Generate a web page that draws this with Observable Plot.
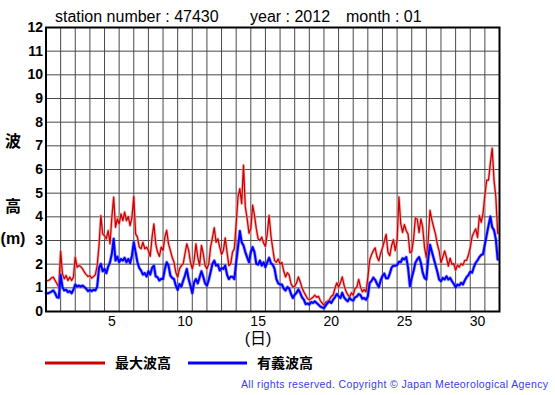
<!DOCTYPE html>
<html>
<head>
<meta charset="utf-8">
<script src="https://cdn.jsdelivr.net/npm/d3@7"></script>
<script src="https://cdn.jsdelivr.net/npm/@observablehq/plot@0.6"></script>
<style>
  html, body { margin: 0; padding: 0; background: #fff; }
  #chart svg { display: block; }
</style>
</head>
<body>
<div id="chart"></div>
<script>
// Station 47430, January 2012 — 3-hourly readings (8 per day)
const stationNumber = "47430";
const year = "2012";
const month = "01";
const readingsPerDay = 8;

const yTicks = [0,1,2,3,4,5,6,7,8,9,10,11,12];
const xTickLabels = [5,10,15,20,25,30];
const dayLines = d3.range(0, 32);

// 最大波高 (max wave height, m)
const maxWave = [
1.28,1.31,1.34,1.42,1.45,1.31,1.17,1.03,
2.55,1.59,1.38,1.52,1.31,1.45,1.31,1.45,
2.30,1.87,1.94,1.90,1.80,1.66,1.56,1.48,
1.52,1.41,1.48,1.56,1.94,2.79,4.05,3.28,
3.20,3.07,3.42,2.86,3.98,4.83,3.56,3.91,
3.70,4.12,3.84,4.20,3.84,4.01,3.63,3.98,
4.86,3.28,3.14,2.72,2.65,2.93,2.65,2.72,
2.58,2.33,3.14,3.70,2.86,2.51,2.33,2.72,
2.58,3.14,3.43,2.86,2.58,2.29,2.08,1.66,
1.45,1.80,1.94,2.01,2.44,2.86,2.58,2.08,
1.80,2.15,2.86,2.29,1.94,2.79,2.44,1.94,
1.80,2.01,2.72,3.11,3.54,2.93,3.07,2.72,
2.41,2.58,3.11,2.51,1.94,2.01,2.51,2.65,
3.71,4.84,5.19,4.56,6.18,4.42,3.92,3.31,
3.50,4.49,4.06,3.50,3.07,3.00,3.14,2.89,
2.75,3.28,4.06,3.21,2.65,2.15,2.08,2.22,
2.00,2.07,1.71,1.46,1.64,1.54,1.17,1.03,
1.07,1.21,1.46,1.26,1.00,0.83,0.69,0.54,
0.50,0.54,0.60,0.69,0.60,0.64,0.46,0.36,
0.26,0.40,0.43,0.50,0.64,0.69,0.97,1.21,
1.03,1.21,1.46,1.11,0.86,0.71,0.60,0.79,
0.69,0.97,1.03,1.36,1.03,0.83,0.93,0.83,
1.43,2.17,2.40,2.57,2.69,2.31,2.14,2.46,
2.69,2.97,3.26,2.50,2.36,2.79,3.03,2.57,
2.99,4.84,3.70,3.34,3.67,3.41,3.27,2.49,
2.53,3.06,3.95,3.91,3.34,3.91,3.56,2.70,
2.28,2.99,4.27,3.87,3.56,3.27,2.84,2.56,
2.06,2.30,2.56,2.28,1.92,2.25,1.99,2.02,
1.74,1.96,1.88,2.02,1.96,2.16,2.16,2.39,
2.70,3.16,3.34,3.49,3.13,4.05,3.77,4.15,
4.91,5.55,5.55,6.26,6.90,5.55,4.84,3.30
];

// 有義波高 (significant wave height, m)
const sigWave = [
0.77,0.77,0.80,0.84,0.89,0.77,0.60,0.58,
1.55,1.03,0.89,0.92,0.82,0.86,0.77,0.92,
1.14,1.05,1.10,1.05,1.10,1.03,0.96,0.86,
0.92,0.86,0.92,0.89,1.05,1.84,2.01,1.70,
1.80,1.62,1.90,2.08,2.44,3.07,2.15,2.32,
2.08,2.22,2.15,2.27,2.08,2.22,2.04,2.36,
2.93,2.51,2.08,1.84,1.73,1.56,1.62,1.48,
1.70,1.56,1.84,1.94,1.48,1.45,1.31,1.38,
1.37,1.80,2.08,1.94,1.52,1.42,1.37,1.09,
0.91,1.16,1.05,1.30,1.52,1.80,1.37,1.09,
0.77,1.23,1.37,1.19,1.45,1.70,1.47,1.19,
1.09,1.33,1.66,2.01,2.15,1.94,1.98,1.73,
1.84,1.80,1.94,1.56,1.37,1.47,1.47,1.37,
2.08,2.72,3.40,2.93,2.79,2.51,2.29,2.08,
2.51,2.72,2.51,2.01,1.98,2.15,1.94,2.08,
1.87,2.08,2.27,2.04,1.98,1.80,1.37,1.19,
1.14,1.14,0.97,0.89,1.03,0.97,0.74,0.57,
0.71,0.79,0.93,0.79,0.60,0.50,0.31,0.34,
0.29,0.40,0.36,0.43,0.36,0.29,0.21,0.17,
0.14,0.26,0.36,0.43,0.36,0.50,0.60,0.74,
0.64,0.57,0.79,0.60,0.50,0.43,0.57,0.49,
0.46,0.60,0.64,0.74,0.69,0.54,0.57,0.49,
0.64,1.21,1.29,1.43,1.34,1.17,1.03,1.31,
1.50,1.60,1.40,1.40,1.60,1.86,1.93,1.93,
1.96,2.10,2.08,2.25,2.20,2.30,1.85,1.07,
1.42,1.71,2.06,2.20,2.30,2.06,1.64,1.42,
1.35,2.20,2.82,2.53,2.25,1.96,1.68,1.35,
1.28,1.42,1.35,1.49,1.35,1.42,1.28,1.17,
1.02,1.14,1.10,1.21,1.14,1.31,1.45,1.54,
1.68,1.64,1.88,2.06,2.16,2.30,2.39,2.42,
2.84,3.24,3.63,4.01,3.56,3.44,3.06,2.20
];

const seriesNames = ["最大波高", "有義波高"];
const seriesColors = ["#cc0000", "#0000ff"];

const maxData = maxWave.map((v, i) => ({t: i / readingsPerDay, v}));
const sigData = sigWave.map((v, i) => ({t: i / readingsPerDay, v}));

const FONT = "'Liberation Sans', Arial, 'Noto Sans CJK JP', sans-serif";

const svg = Plot.plot({
  width: 555,
  height: 395,
  marginLeft: 45.5,
  marginRight: 56,
  marginTop: 27,
  marginBottom: 84,
  style: {fontFamily: FONT, background: "#fff", color: "#000", overflow: "visible"},
  x: {domain: [0, 31], label: null},
  y: {domain: [0, 12], label: null},
  marks: [
    Plot.gridX(dayLines, {stroke: "#4a4a4a", strokeOpacity: 1, strokeWidth: 1}),
    Plot.gridY(yTicks, {stroke: "#4a4a4a", strokeOpacity: 1, strokeWidth: 1}),
    Plot.line(maxData, {x: "t", y: "v", stroke: "#eea0a0", strokeWidth: 3, strokeOpacity: 0.7}),
    Plot.line(maxData, {x: "t", y: "v", stroke: seriesColors[0], strokeWidth: 1.3}),
    Plot.line(sigData, {x: "t", y: "v", stroke: "#7070ff", strokeWidth: 3.5, strokeOpacity: 0.6}),
    Plot.line(sigData, {x: "t", y: "v", stroke: seriesColors[1], strokeWidth: 2}),
    Plot.frame({stroke: "#000", strokeWidth: 2}),
    Plot.axisY(yTicks, {tickSize: 0, tickPadding: 3, fontSize: 14, fontWeight: "bold", label: null}),
    Plot.axisX(xTickLabels.map(d => d - 0.5), {tickSize: 0, tickPadding: 5, fontSize: 14, label: null, tickFormat: d => String(d + 0.5)})
  ]
});

const s = d3.select(svg);
function txt(x, y, str, o = {}) {
  const t = s.append("text")
    .attr("x", x).attr("y", y)
    .attr("font-family", o.family || FONT)
    .attr("font-size", o.size || 16)
    .attr("font-weight", o.weight || "normal")
    .attr("fill", o.fill || "#000")
    .attr("text-anchor", o.anchor || "start")
    .attr("dominant-baseline", o.baseline || "auto")
    .text(str);
  if (o.textLength) t.attr("textLength", o.textLength).attr("lengthAdjust", "spacing");
  return t;
}

// Title line
txt(55, 22, `station number : ${stationNumber}`, {size: 16});
txt(250, 22, `year : ${year}`, {size: 16});
txt(346, 22, `month : ${month}`, {size: 16});

// Y axis title (vertical, character per line)
txt(13, 147, "波", {size: 16, weight: "bold", anchor: "middle"});
txt(13, 212, "高", {size: 16, weight: "bold", anchor: "middle"});
txt(13, 244, "(m)", {size: 16, weight: "bold", anchor: "middle"});

// X axis title
txt(258, 344, "(日)", {size: 16, anchor: "middle"});

// Legend
const legendItems = [
  {x0: 45, x1: 105, tx: 115},
  {x0: 188, x1: 247, tx: 257}
];
legendItems.forEach((it, i) => {
  s.append("line").attr("x1", it.x0).attr("x2", it.x1).attr("y1", 363).attr("y2", 363)
    .attr("stroke", seriesColors[i]).attr("stroke-width", 3);
  txt(it.tx, 368, seriesNames[i], {size: 14, weight: "bold"});
});

// Copyright
txt(241, 388, "All rights reserved. Copyright © Japan Meteorological Agency",
    {size: 10.5, fill: "#3a3aee", textLength: 307});

document.getElementById("chart").appendChild(svg);
</script>
</body>
</html>
